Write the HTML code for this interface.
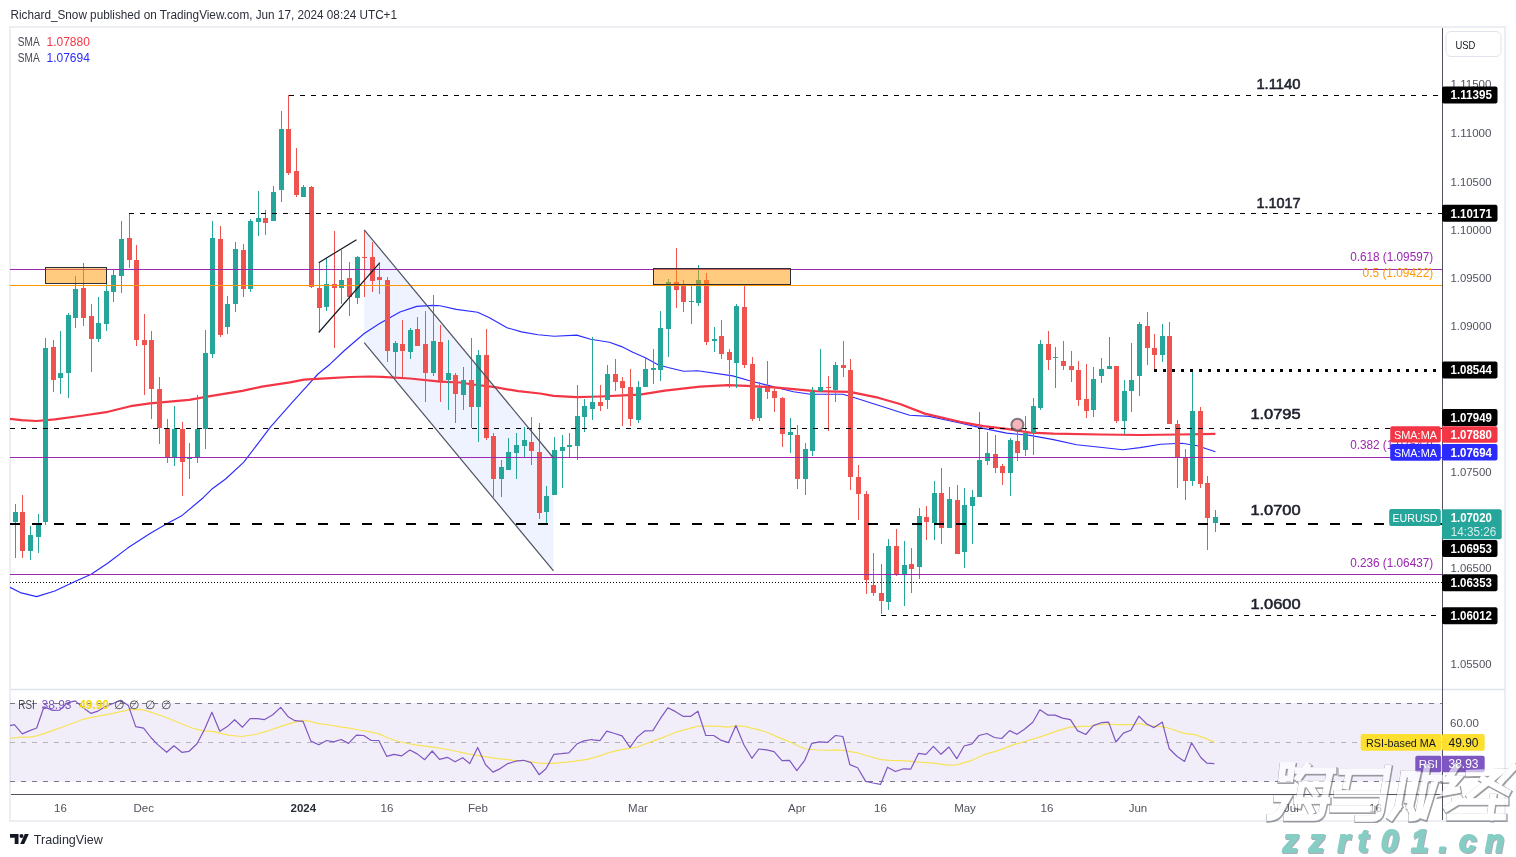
<!DOCTYPE html>
<html><head><meta charset="utf-8"><style>
html,body{margin:0;padding:0;background:#fff;}
body{width:1516px;height:857px;overflow:hidden;position:relative;}
svg{position:absolute;left:0;top:0;font-family:"Liberation Sans", sans-serif;will-change:transform;}
</style></head><body>
<svg width="1516" height="857" viewBox="0 0 1516 857"><defs><clipPath id="cm"><rect x="10" y="28" width="1432" height="661"/></clipPath><clipPath id="cr"><rect x="10" y="690" width="1432" height="104"/></clipPath></defs><rect x="10" y="27" width="1495" height="794" fill="none" stroke="#eceef3" stroke-width="2"/><g clip-path="url(#cm)"><polygon points="364.2,229.8 553.5,458.0 553.5,570.8 364.2,342.6" fill="#2962ff" fill-opacity="0.08"/><path d="M10.0,587.3 L21.2,592.9 L36.6,596.6 L54.8,591.0 L74.4,581.7 L91.2,574.2 L108.0,563.0 L127.6,548.1 L150.0,533.6 L166.8,523.8 L182.2,515.4 L203.2,497.7 L211.6,489.3 L225.6,479.0 L243.8,462.2 L270.4,427.2 L290.0,404.8 L304.0,389.4 L318.0,374.0 L330.0,364.2 L345.0,350.0 L364.2,333.5 L380.0,323.3 L400.0,312.0 L416.7,306.4 L433.0,305.4 L440.0,305.8 L456.3,309.4 L477.6,312.3 L489.0,317.6 L507.0,327.7 L521.6,331.9 L538.0,334.7 L554.3,336.3 L576.7,335.1 L590.7,339.3 L609.4,342.3 L621.6,346.6 L632.8,352.2 L645.4,357.8 L658.0,364.8 L668.0,367.5 L683.7,371.2 L697.7,370.7 L732.7,375.9 L751.4,381.3 L770.0,385.9 L793.4,391.8 L810.4,394.2 L843.0,394.2 L854.7,397.7 L909.6,415.2 L929.4,416.4 L960.0,423.0 L983.3,428.4 L1006.7,433.1 L1030.0,435.4 L1053.4,439.6 L1076.7,444.8 L1100.0,447.3 L1122.8,449.7 L1140.0,447.6 L1160.7,444.2 L1182.0,443.3 L1197.2,445.8 L1215.4,451.8" fill="none" stroke="#2b2bff" stroke-width="1.15" stroke-linejoin="round"/><path d="M10.0,418.8 L21.2,420.2 L36.6,421.0 L54.8,419.4 L80.0,416.0 L108.0,411.8 L130.4,406.2 L150.0,403.4 L189.2,399.8 L211.6,395.8 L242.4,390.8 L262.0,386.6 L290.0,382.4 L304.0,379.6 L330.0,378.2 L350.0,377.0 L370.0,376.5 L381.7,376.9 L410.0,378.5 L440.0,381.6 L460.0,382.5 L472.7,384.5 L495.0,387.2 L518.4,391.2 L540.0,393.5 L553.4,395.8 L576.7,397.2 L600.0,396.5 L623.4,395.4 L640.0,394.6 L665.0,390.6 L700.0,386.6 L728.0,385.2 L746.7,385.9 L770.0,387.1 L780.0,387.9 L815.0,391.2 L850.0,391.9 L878.0,397.7 L900.0,404.0 L924.8,413.6 L960.0,421.8 L983.3,426.1 L1006.7,428.9 L1030.0,432.6 L1053.4,433.6 L1100.0,434.5 L1140.0,435.0 L1180.0,434.5 L1215.4,433.8" fill="none" stroke="#f23645" stroke-width="2.2" stroke-linejoin="round"/><g shape-rendering="crispEdges"><rect x="15" y="504" width="1" height="54" fill="#26a69a"/><rect x="13" y="512" width="5" height="10" fill="#26a69a"/><rect x="22" y="495" width="1" height="63" fill="#ef5350"/><rect x="20" y="512" width="5" height="39" fill="#ef5350"/><rect x="30" y="526" width="1" height="34" fill="#26a69a"/><rect x="28" y="535" width="5" height="16" fill="#26a69a"/><rect x="38" y="514" width="1" height="39" fill="#26a69a"/><rect x="36" y="525" width="5" height="12" fill="#26a69a"/><rect x="45" y="338" width="1" height="187" fill="#26a69a"/><rect x="43" y="348" width="5" height="174" fill="#26a69a"/><rect x="53" y="340" width="1" height="52" fill="#ef5350"/><rect x="51" y="347" width="5" height="33" fill="#ef5350"/><rect x="60" y="331" width="1" height="63" fill="#26a69a"/><rect x="58" y="373" width="5" height="5" fill="#26a69a"/><rect x="68" y="313" width="1" height="85" fill="#26a69a"/><rect x="66" y="315" width="5" height="58" fill="#26a69a"/><rect x="75" y="276" width="1" height="52" fill="#26a69a"/><rect x="73" y="289" width="5" height="29" fill="#26a69a"/><rect x="83" y="263" width="1" height="63" fill="#ef5350"/><rect x="81" y="288" width="5" height="30" fill="#ef5350"/><rect x="91" y="304" width="1" height="68" fill="#ef5350"/><rect x="89" y="316" width="5" height="23" fill="#ef5350"/><rect x="98" y="297" width="1" height="45" fill="#26a69a"/><rect x="96" y="323" width="5" height="16" fill="#26a69a"/><rect x="106" y="284" width="1" height="47" fill="#26a69a"/><rect x="104" y="291" width="5" height="33" fill="#26a69a"/><rect x="113" y="270" width="1" height="32" fill="#26a69a"/><rect x="111" y="275" width="5" height="17" fill="#26a69a"/><rect x="121" y="221" width="1" height="72" fill="#26a69a"/><rect x="119" y="239" width="5" height="37" fill="#26a69a"/><rect x="129" y="214" width="1" height="54" fill="#ef5350"/><rect x="127" y="238" width="5" height="22" fill="#ef5350"/><rect x="136" y="245" width="1" height="101" fill="#ef5350"/><rect x="134" y="260" width="5" height="80" fill="#ef5350"/><rect x="144" y="314" width="1" height="81" fill="#ef5350"/><rect x="142" y="340" width="5" height="5" fill="#ef5350"/><rect x="151" y="331" width="1" height="88" fill="#ef5350"/><rect x="149" y="340" width="5" height="49" fill="#ef5350"/><rect x="159" y="377" width="1" height="67" fill="#ef5350"/><rect x="157" y="389" width="5" height="39" fill="#ef5350"/><rect x="167" y="419" width="1" height="44" fill="#ef5350"/><rect x="165" y="428" width="5" height="30" fill="#ef5350"/><rect x="174" y="406" width="1" height="60" fill="#26a69a"/><rect x="172" y="429" width="5" height="29" fill="#26a69a"/><rect x="182" y="422" width="1" height="74" fill="#ef5350"/><rect x="180" y="429" width="5" height="33" fill="#ef5350"/><rect x="189" y="443" width="1" height="36" fill="#26a69a"/><rect x="187" y="458" width="5" height="1" fill="#26a69a"/><rect x="197" y="395" width="1" height="68" fill="#26a69a"/><rect x="195" y="429" width="5" height="29" fill="#26a69a"/><rect x="205" y="330" width="1" height="119" fill="#26a69a"/><rect x="203" y="353" width="5" height="76" fill="#26a69a"/><rect x="212" y="221" width="1" height="137" fill="#26a69a"/><rect x="210" y="238" width="5" height="116" fill="#26a69a"/><rect x="220" y="226" width="1" height="111" fill="#ef5350"/><rect x="218" y="239" width="5" height="96" fill="#ef5350"/><rect x="227" y="296" width="1" height="38" fill="#26a69a"/><rect x="225" y="304" width="5" height="23" fill="#26a69a"/><rect x="235" y="242" width="1" height="70" fill="#26a69a"/><rect x="233" y="249" width="5" height="55" fill="#26a69a"/><rect x="243" y="244" width="1" height="53" fill="#ef5350"/><rect x="241" y="250" width="5" height="39" fill="#ef5350"/><rect x="250" y="219" width="1" height="73" fill="#26a69a"/><rect x="248" y="221" width="5" height="68" fill="#26a69a"/><rect x="258" y="191" width="1" height="45" fill="#26a69a"/><rect x="256" y="218" width="5" height="4" fill="#26a69a"/><rect x="265" y="210" width="1" height="25" fill="#ef5350"/><rect x="263" y="218" width="5" height="5" fill="#ef5350"/><rect x="273" y="186" width="1" height="35" fill="#26a69a"/><rect x="271" y="192" width="5" height="29" fill="#26a69a"/><rect x="281" y="111" width="1" height="91" fill="#26a69a"/><rect x="279" y="129" width="5" height="61" fill="#26a69a"/><rect x="288" y="95" width="1" height="80" fill="#ef5350"/><rect x="286" y="129" width="5" height="44" fill="#ef5350"/><rect x="296" y="148" width="1" height="49" fill="#ef5350"/><rect x="294" y="171" width="5" height="24" fill="#ef5350"/><rect x="303" y="185" width="1" height="12" fill="#26a69a"/><rect x="301" y="187" width="5" height="10" fill="#26a69a"/><rect x="311" y="186" width="1" height="102" fill="#ef5350"/><rect x="309" y="187" width="5" height="100" fill="#ef5350"/><rect x="319" y="263" width="1" height="69" fill="#ef5350"/><rect x="317" y="288" width="5" height="20" fill="#ef5350"/><rect x="326" y="258" width="1" height="53" fill="#26a69a"/><rect x="324" y="284" width="5" height="23" fill="#26a69a"/><rect x="334" y="231" width="1" height="117" fill="#ef5350"/><rect x="332" y="284" width="5" height="4" fill="#ef5350"/><rect x="341" y="250" width="1" height="54" fill="#26a69a"/><rect x="339" y="280" width="5" height="8" fill="#26a69a"/><rect x="349" y="262" width="1" height="54" fill="#ef5350"/><rect x="347" y="278" width="5" height="19" fill="#ef5350"/><rect x="357" y="256" width="1" height="48" fill="#26a69a"/><rect x="355" y="257" width="5" height="41" fill="#26a69a"/><rect x="364" y="230" width="1" height="67" fill="#ef5350"/><rect x="362" y="257" width="5" height="1" fill="#ef5350"/><rect x="372" y="242" width="1" height="50" fill="#ef5350"/><rect x="370" y="257" width="5" height="24" fill="#ef5350"/><rect x="379" y="262" width="1" height="32" fill="#ef5350"/><rect x="377" y="277" width="5" height="3" fill="#ef5350"/><rect x="387" y="277" width="1" height="85" fill="#ef5350"/><rect x="385" y="280" width="5" height="71" fill="#ef5350"/><rect x="395" y="341" width="1" height="38" fill="#26a69a"/><rect x="393" y="343" width="5" height="9" fill="#26a69a"/><rect x="402" y="320" width="1" height="57" fill="#ef5350"/><rect x="400" y="344" width="5" height="7" fill="#ef5350"/><rect x="410" y="328" width="1" height="31" fill="#26a69a"/><rect x="408" y="330" width="5" height="22" fill="#26a69a"/><rect x="417" y="317" width="1" height="29" fill="#ef5350"/><rect x="415" y="329" width="5" height="17" fill="#ef5350"/><rect x="425" y="311" width="1" height="91" fill="#ef5350"/><rect x="423" y="344" width="5" height="29" fill="#ef5350"/><rect x="433" y="295" width="1" height="81" fill="#26a69a"/><rect x="431" y="341" width="5" height="32" fill="#26a69a"/><rect x="440" y="325" width="1" height="77" fill="#ef5350"/><rect x="438" y="342" width="5" height="39" fill="#ef5350"/><rect x="448" y="340" width="1" height="70" fill="#26a69a"/><rect x="446" y="373" width="5" height="7" fill="#26a69a"/><rect x="455" y="373" width="1" height="50" fill="#ef5350"/><rect x="453" y="375" width="5" height="19" fill="#ef5350"/><rect x="463" y="367" width="1" height="43" fill="#26a69a"/><rect x="461" y="380" width="5" height="15" fill="#26a69a"/><rect x="471" y="338" width="1" height="90" fill="#ef5350"/><rect x="469" y="380" width="5" height="27" fill="#ef5350"/><rect x="478" y="350" width="1" height="92" fill="#26a69a"/><rect x="476" y="355" width="5" height="52" fill="#26a69a"/><rect x="486" y="329" width="1" height="111" fill="#ef5350"/><rect x="484" y="355" width="5" height="83" fill="#ef5350"/><rect x="493" y="433" width="1" height="64" fill="#ef5350"/><rect x="491" y="436" width="5" height="43" fill="#ef5350"/><rect x="501" y="460" width="1" height="37" fill="#26a69a"/><rect x="499" y="467" width="5" height="12" fill="#26a69a"/><rect x="508" y="438" width="1" height="32" fill="#26a69a"/><rect x="506" y="452" width="5" height="18" fill="#26a69a"/><rect x="516" y="433" width="1" height="46" fill="#26a69a"/><rect x="514" y="445" width="5" height="8" fill="#26a69a"/><rect x="524" y="427" width="1" height="31" fill="#26a69a"/><rect x="522" y="440" width="5" height="6" fill="#26a69a"/><rect x="531" y="417" width="1" height="48" fill="#ef5350"/><rect x="529" y="442" width="5" height="9" fill="#ef5350"/><rect x="539" y="423" width="1" height="96" fill="#ef5350"/><rect x="537" y="452" width="5" height="61" fill="#ef5350"/><rect x="546" y="486" width="1" height="37" fill="#26a69a"/><rect x="544" y="496" width="5" height="16" fill="#26a69a"/><rect x="554" y="437" width="1" height="58" fill="#26a69a"/><rect x="552" y="450" width="5" height="45" fill="#26a69a"/><rect x="562" y="435" width="1" height="53" fill="#26a69a"/><rect x="560" y="447" width="5" height="4" fill="#26a69a"/><rect x="569" y="433" width="1" height="25" fill="#26a69a"/><rect x="567" y="445" width="5" height="2" fill="#26a69a"/><rect x="577" y="385" width="1" height="75" fill="#26a69a"/><rect x="575" y="416" width="5" height="30" fill="#26a69a"/><rect x="584" y="399" width="1" height="33" fill="#26a69a"/><rect x="582" y="406" width="5" height="11" fill="#26a69a"/><rect x="592" y="337" width="1" height="83" fill="#26a69a"/><rect x="590" y="402" width="5" height="7" fill="#26a69a"/><rect x="600" y="385" width="1" height="26" fill="#ef5350"/><rect x="598" y="402" width="5" height="4" fill="#ef5350"/><rect x="607" y="365" width="1" height="44" fill="#26a69a"/><rect x="605" y="374" width="5" height="26" fill="#26a69a"/><rect x="615" y="359" width="1" height="32" fill="#ef5350"/><rect x="613" y="374" width="5" height="8" fill="#ef5350"/><rect x="622" y="377" width="1" height="49" fill="#ef5350"/><rect x="620" y="381" width="5" height="7" fill="#ef5350"/><rect x="630" y="369" width="1" height="57" fill="#ef5350"/><rect x="628" y="387" width="5" height="32" fill="#ef5350"/><rect x="638" y="381" width="1" height="42" fill="#26a69a"/><rect x="636" y="387" width="5" height="33" fill="#26a69a"/><rect x="645" y="358" width="1" height="29" fill="#26a69a"/><rect x="643" y="369" width="5" height="18" fill="#26a69a"/><rect x="653" y="349" width="1" height="35" fill="#26a69a"/><rect x="651" y="368" width="5" height="2" fill="#26a69a"/><rect x="660" y="311" width="1" height="70" fill="#26a69a"/><rect x="658" y="328" width="5" height="42" fill="#26a69a"/><rect x="668" y="279" width="1" height="78" fill="#26a69a"/><rect x="666" y="282" width="5" height="47" fill="#26a69a"/><rect x="676" y="248" width="1" height="60" fill="#ef5350"/><rect x="674" y="282" width="5" height="8" fill="#ef5350"/><rect x="683" y="280" width="1" height="32" fill="#ef5350"/><rect x="681" y="286" width="5" height="16" fill="#ef5350"/><rect x="691" y="286" width="1" height="38" fill="#26a69a"/><rect x="689" y="301" width="5" height="1" fill="#26a69a"/><rect x="698" y="265" width="1" height="41" fill="#26a69a"/><rect x="696" y="280" width="5" height="23" fill="#26a69a"/><rect x="706" y="273" width="1" height="72" fill="#ef5350"/><rect x="704" y="280" width="5" height="62" fill="#ef5350"/><rect x="714" y="327" width="1" height="25" fill="#26a69a"/><rect x="712" y="339" width="5" height="2" fill="#26a69a"/><rect x="721" y="320" width="1" height="39" fill="#ef5350"/><rect x="719" y="336" width="5" height="18" fill="#ef5350"/><rect x="729" y="349" width="1" height="39" fill="#ef5350"/><rect x="727" y="352" width="5" height="8" fill="#ef5350"/><rect x="736" y="304" width="1" height="84" fill="#26a69a"/><rect x="734" y="306" width="5" height="57" fill="#26a69a"/><rect x="744" y="286" width="1" height="82" fill="#ef5350"/><rect x="742" y="307" width="5" height="58" fill="#ef5350"/><rect x="752" y="357" width="1" height="64" fill="#ef5350"/><rect x="750" y="364" width="5" height="55" fill="#ef5350"/><rect x="759" y="382" width="1" height="39" fill="#26a69a"/><rect x="757" y="388" width="5" height="30" fill="#26a69a"/><rect x="767" y="361" width="1" height="38" fill="#ef5350"/><rect x="765" y="388" width="5" height="4" fill="#ef5350"/><rect x="774" y="386" width="1" height="26" fill="#ef5350"/><rect x="772" y="391" width="5" height="7" fill="#ef5350"/><rect x="782" y="397" width="1" height="50" fill="#ef5350"/><rect x="780" y="398" width="5" height="36" fill="#ef5350"/><rect x="790" y="418" width="1" height="35" fill="#26a69a"/><rect x="788" y="432" width="5" height="3" fill="#26a69a"/><rect x="797" y="425" width="1" height="64" fill="#ef5350"/><rect x="795" y="435" width="5" height="44" fill="#ef5350"/><rect x="805" y="443" width="1" height="52" fill="#26a69a"/><rect x="803" y="449" width="5" height="30" fill="#26a69a"/><rect x="812" y="387" width="1" height="69" fill="#26a69a"/><rect x="810" y="392" width="5" height="59" fill="#26a69a"/><rect x="820" y="349" width="1" height="43" fill="#26a69a"/><rect x="818" y="387" width="5" height="4" fill="#26a69a"/><rect x="828" y="376" width="1" height="55" fill="#ef5350"/><rect x="826" y="387" width="5" height="1" fill="#ef5350"/><rect x="835" y="362" width="1" height="40" fill="#26a69a"/><rect x="833" y="365" width="5" height="25" fill="#26a69a"/><rect x="843" y="341" width="1" height="36" fill="#ef5350"/><rect x="841" y="365" width="5" height="3" fill="#ef5350"/><rect x="850" y="359" width="1" height="131" fill="#ef5350"/><rect x="848" y="370" width="5" height="107" fill="#ef5350"/><rect x="858" y="465" width="1" height="55" fill="#ef5350"/><rect x="856" y="477" width="5" height="17" fill="#ef5350"/><rect x="866" y="491" width="1" height="103" fill="#ef5350"/><rect x="864" y="494" width="5" height="86" fill="#ef5350"/><rect x="873" y="553" width="1" height="43" fill="#ef5350"/><rect x="871" y="585" width="5" height="8" fill="#ef5350"/><rect x="881" y="564" width="1" height="50" fill="#ef5350"/><rect x="879" y="593" width="5" height="8" fill="#ef5350"/><rect x="888" y="539" width="1" height="71" fill="#26a69a"/><rect x="886" y="546" width="5" height="56" fill="#26a69a"/><rect x="896" y="529" width="1" height="47" fill="#ef5350"/><rect x="894" y="546" width="5" height="29" fill="#ef5350"/><rect x="904" y="541" width="1" height="65" fill="#26a69a"/><rect x="902" y="565" width="5" height="9" fill="#26a69a"/><rect x="911" y="548" width="1" height="45" fill="#ef5350"/><rect x="909" y="564" width="5" height="5" fill="#ef5350"/><rect x="919" y="508" width="1" height="71" fill="#26a69a"/><rect x="917" y="516" width="5" height="51" fill="#26a69a"/><rect x="926" y="506" width="1" height="34" fill="#ef5350"/><rect x="924" y="517" width="5" height="5" fill="#ef5350"/><rect x="934" y="481" width="1" height="59" fill="#26a69a"/><rect x="932" y="493" width="5" height="30" fill="#26a69a"/><rect x="941" y="468" width="1" height="76" fill="#ef5350"/><rect x="939" y="493" width="5" height="35" fill="#ef5350"/><rect x="949" y="487" width="1" height="41" fill="#26a69a"/><rect x="947" y="499" width="5" height="29" fill="#26a69a"/><rect x="957" y="485" width="1" height="69" fill="#ef5350"/><rect x="955" y="500" width="5" height="54" fill="#ef5350"/><rect x="964" y="488" width="1" height="80" fill="#26a69a"/><rect x="962" y="505" width="5" height="47" fill="#26a69a"/><rect x="972" y="490" width="1" height="54" fill="#26a69a"/><rect x="970" y="497" width="5" height="9" fill="#26a69a"/><rect x="979" y="412" width="1" height="85" fill="#26a69a"/><rect x="977" y="460" width="5" height="37" fill="#26a69a"/><rect x="987" y="432" width="1" height="33" fill="#26a69a"/><rect x="985" y="453" width="5" height="8" fill="#26a69a"/><rect x="995" y="435" width="1" height="38" fill="#ef5350"/><rect x="993" y="454" width="5" height="14" fill="#ef5350"/><rect x="1002" y="464" width="1" height="21" fill="#ef5350"/><rect x="1000" y="466" width="5" height="7" fill="#ef5350"/><rect x="1010" y="438" width="1" height="58" fill="#26a69a"/><rect x="1008" y="440" width="5" height="33" fill="#26a69a"/><rect x="1017" y="428" width="1" height="33" fill="#ef5350"/><rect x="1015" y="441" width="5" height="12" fill="#ef5350"/><rect x="1025" y="416" width="1" height="40" fill="#26a69a"/><rect x="1023" y="433" width="5" height="17" fill="#26a69a"/><rect x="1033" y="398" width="1" height="57" fill="#26a69a"/><rect x="1031" y="406" width="5" height="27" fill="#26a69a"/><rect x="1040" y="340" width="1" height="70" fill="#26a69a"/><rect x="1038" y="344" width="5" height="64" fill="#26a69a"/><rect x="1048" y="331" width="1" height="39" fill="#ef5350"/><rect x="1046" y="344" width="5" height="16" fill="#ef5350"/><rect x="1055" y="347" width="1" height="41" fill="#26a69a"/><rect x="1053" y="357" width="5" height="1" fill="#26a69a"/><rect x="1063" y="341" width="1" height="29" fill="#ef5350"/><rect x="1061" y="361" width="5" height="5" fill="#ef5350"/><rect x="1071" y="351" width="1" height="31" fill="#ef5350"/><rect x="1069" y="366" width="5" height="4" fill="#ef5350"/><rect x="1078" y="361" width="1" height="45" fill="#ef5350"/><rect x="1076" y="370" width="5" height="30" fill="#ef5350"/><rect x="1086" y="364" width="1" height="54" fill="#ef5350"/><rect x="1084" y="399" width="5" height="12" fill="#ef5350"/><rect x="1093" y="367" width="1" height="50" fill="#26a69a"/><rect x="1091" y="379" width="5" height="31" fill="#26a69a"/><rect x="1101" y="358" width="1" height="25" fill="#26a69a"/><rect x="1099" y="369" width="5" height="7" fill="#26a69a"/><rect x="1109" y="337" width="1" height="32" fill="#26a69a"/><rect x="1107" y="366" width="5" height="3" fill="#26a69a"/><rect x="1116" y="366" width="1" height="57" fill="#ef5350"/><rect x="1114" y="366" width="5" height="55" fill="#ef5350"/><rect x="1124" y="380" width="1" height="54" fill="#26a69a"/><rect x="1122" y="391" width="5" height="30" fill="#26a69a"/><rect x="1131" y="343" width="1" height="69" fill="#26a69a"/><rect x="1129" y="380" width="5" height="11" fill="#26a69a"/><rect x="1139" y="322" width="1" height="74" fill="#26a69a"/><rect x="1137" y="324" width="5" height="52" fill="#26a69a"/><rect x="1147" y="312" width="1" height="53" fill="#ef5350"/><rect x="1145" y="326" width="5" height="22" fill="#ef5350"/><rect x="1154" y="334" width="1" height="35" fill="#ef5350"/><rect x="1152" y="348" width="5" height="7" fill="#ef5350"/><rect x="1162" y="324" width="1" height="38" fill="#26a69a"/><rect x="1160" y="336" width="5" height="19" fill="#26a69a"/><rect x="1169" y="322" width="1" height="102" fill="#ef5350"/><rect x="1167" y="336" width="5" height="88" fill="#ef5350"/><rect x="1177" y="420" width="1" height="68" fill="#ef5350"/><rect x="1175" y="424" width="5" height="33" fill="#ef5350"/><rect x="1185" y="449" width="1" height="51" fill="#ef5350"/><rect x="1183" y="457" width="5" height="24" fill="#ef5350"/><rect x="1192" y="370" width="1" height="116" fill="#26a69a"/><rect x="1190" y="411" width="5" height="70" fill="#26a69a"/><rect x="1200" y="407" width="1" height="81" fill="#ef5350"/><rect x="1198" y="411" width="5" height="73" fill="#ef5350"/><rect x="1207" y="476" width="1" height="74" fill="#ef5350"/><rect x="1205" y="483" width="5" height="35" fill="#ef5350"/><rect x="1215" y="510" width="1" height="22" fill="#26a69a"/><rect x="1213" y="517" width="5" height="6" fill="#26a69a"/></g><line x1="289" y1="95.5" x2="1442" y2="95.5" stroke="#000" stroke-width="1" stroke-dasharray="5 6" shape-rendering="crispEdges"/><line x1="129" y1="213.5" x2="1442" y2="213.5" stroke="#000" stroke-width="1" stroke-dasharray="5 6" shape-rendering="crispEdges"/><line x1="10" y1="269.5" x2="1442" y2="269.5" stroke="#9c27b0" stroke-width="1" shape-rendering="crispEdges"/><line x1="10" y1="285.5" x2="1442" y2="285.5" stroke="#ff9800" stroke-width="1" shape-rendering="crispEdges"/><line x1="1154" y1="370.5" x2="1442" y2="370.5" stroke="#000" stroke-width="3" stroke-dasharray="3 6" shape-rendering="crispEdges"/><line x1="10" y1="428.5" x2="1442" y2="428.5" stroke="#000" stroke-width="1" stroke-dasharray="5 6" shape-rendering="crispEdges"/><line x1="10" y1="457.5" x2="1442" y2="457.5" stroke="#9c27b0" stroke-width="1" shape-rendering="crispEdges"/><line x1="10" y1="524" x2="1442" y2="524" stroke="#000" stroke-width="2" stroke-dasharray="10 12" shape-rendering="crispEdges"/><line x1="10" y1="574.5" x2="1442" y2="574.5" stroke="#9c27b0" stroke-width="1" shape-rendering="crispEdges"/><line x1="10" y1="582.5" x2="1442" y2="582.5" stroke="#000" stroke-width="1" stroke-dasharray="1 2" shape-rendering="crispEdges"/><line x1="881" y1="615.5" x2="1442" y2="615.5" stroke="#000" stroke-width="1" stroke-dasharray="5 6" shape-rendering="crispEdges"/><rect x="45.5" y="267.5" width="61" height="16" fill="#ff9800" fill-opacity="0.5" stroke="#2a2e39" stroke-width="1"/><rect x="653.5" y="268.5" width="137" height="16" fill="#ff9800" fill-opacity="0.5" stroke="#2a2e39" stroke-width="1"/><line x1="364.2" y1="229.8" x2="553.5" y2="458.0" stroke="#50535e" stroke-width="1.2"/><line x1="364.2" y1="342.6" x2="553.5" y2="570.8" stroke="#50535e" stroke-width="1.2"/><line x1="318.7" y1="262.7" x2="356.5" y2="239.8" stroke="#131722" stroke-width="1.2"/><line x1="318.7" y1="332.5" x2="379.4" y2="263.2" stroke="#131722" stroke-width="1.2"/><circle cx="1017.4" cy="424.8" r="6" fill="#f7a1aa" stroke="#50535e" stroke-opacity="0.75" stroke-width="2" fill-opacity="0.8"/><text x="1300.6" y="89" font-size="13.8" fill="#1e222d" font-weight="normal" text-anchor="end" textLength="44.2" lengthAdjust="spacingAndGlyphs" stroke="#1e222d" stroke-width="0.55">1.1140</text><text x="1300.6" y="207.7" font-size="13.8" fill="#1e222d" font-weight="normal" text-anchor="end" textLength="44.2" lengthAdjust="spacingAndGlyphs" stroke="#1e222d" stroke-width="0.55">1.1017</text><text x="1300.6" y="419.2" font-size="13.8" fill="#1e222d" font-weight="normal" text-anchor="end" textLength="50.2" lengthAdjust="spacingAndGlyphs" stroke="#1e222d" stroke-width="0.55">1.0795</text><text x="1300.6" y="514.6" font-size="13.8" fill="#1e222d" font-weight="normal" text-anchor="end" textLength="50.2" lengthAdjust="spacingAndGlyphs" stroke="#1e222d" stroke-width="0.55">1.0700</text><text x="1300.6" y="609.3" font-size="13.8" fill="#1e222d" font-weight="normal" text-anchor="end" textLength="50.2" lengthAdjust="spacingAndGlyphs" stroke="#1e222d" stroke-width="0.55">1.0600</text><text x="1433.2" y="261" font-size="12.3" fill="#9c27b0" font-weight="normal" text-anchor="end" textLength="83" lengthAdjust="spacingAndGlyphs">0.618 (1.09597)</text><text x="1433.2" y="277" font-size="12.3" fill="#ff9800" font-weight="normal" text-anchor="end" textLength="70.6" lengthAdjust="spacingAndGlyphs">0.5 (1.09422)</text><text x="1433.2" y="448.7" font-size="12.3" fill="#9c27b0" font-weight="normal" text-anchor="end" textLength="83" lengthAdjust="spacingAndGlyphs">0.382 (1.07643)</text><text x="1433.2" y="566.8" font-size="12.3" fill="#9c27b0" font-weight="normal" text-anchor="end" textLength="83" lengthAdjust="spacingAndGlyphs">0.236 (1.06437)</text></g><text x="17.8" y="45.8" font-size="12" fill="#434651" font-weight="normal" text-anchor="start" textLength="21.8" lengthAdjust="spacingAndGlyphs">SMA</text><text x="46.5" y="45.8" font-size="12" fill="#f23645" font-weight="normal" text-anchor="start" >1.07880</text><text x="17.8" y="62.3" font-size="12" fill="#434651" font-weight="normal" text-anchor="start" textLength="21.8" lengthAdjust="spacingAndGlyphs">SMA</text><text x="46.5" y="62.3" font-size="12" fill="#2b2bff" font-weight="normal" text-anchor="start" >1.07694</text><line x1="11" y1="689.5" x2="1505" y2="689.5" stroke="#e0e3eb" stroke-width="1.3"/><line x1="11" y1="794.5" x2="1442" y2="794.5" stroke="#50535e" stroke-width="1"/><line x1="1442.5" y1="28" x2="1442.5" y2="820" stroke="#50535e" stroke-width="1"/><rect x="1446" y="31.5" width="55" height="25" rx="5" fill="#fff" stroke="#e0e3eb" stroke-width="1"/><text x="1455.4" y="48.5" font-size="11.5" fill="#131722" font-weight="normal" text-anchor="start" textLength="20" lengthAdjust="spacingAndGlyphs">USD</text><text x="1450.5" y="88.2" font-size="11.5" fill="#50535e" font-weight="normal" text-anchor="start" textLength="41" lengthAdjust="spacingAndGlyphs">1.11500</text><text x="1450.5" y="137.2" font-size="11.5" fill="#50535e" font-weight="normal" text-anchor="start" textLength="41" lengthAdjust="spacingAndGlyphs">1.11000</text><text x="1450.5" y="185.7" font-size="11.5" fill="#50535e" font-weight="normal" text-anchor="start" textLength="41" lengthAdjust="spacingAndGlyphs">1.10500</text><text x="1450.5" y="233.7" font-size="11.5" fill="#50535e" font-weight="normal" text-anchor="start" textLength="41" lengthAdjust="spacingAndGlyphs">1.10000</text><text x="1450.5" y="282.2" font-size="11.5" fill="#50535e" font-weight="normal" text-anchor="start" textLength="41" lengthAdjust="spacingAndGlyphs">1.09500</text><text x="1450.5" y="330.2" font-size="11.5" fill="#50535e" font-weight="normal" text-anchor="start" textLength="41" lengthAdjust="spacingAndGlyphs">1.09000</text><text x="1450.5" y="475.7" font-size="11.5" fill="#50535e" font-weight="normal" text-anchor="start" textLength="41" lengthAdjust="spacingAndGlyphs">1.07500</text><text x="1450.5" y="571.7" font-size="11.5" fill="#50535e" font-weight="normal" text-anchor="start" textLength="41" lengthAdjust="spacingAndGlyphs">1.06500</text><text x="1450.5" y="668.2" font-size="11.5" fill="#50535e" font-weight="normal" text-anchor="start" textLength="41" lengthAdjust="spacingAndGlyphs">1.05500</text><rect x="1442" y="86.5" width="55.5" height="17" rx="2" fill="#000"/><text x="1471.25" y="99.3" font-size="12" fill="#fff" font-weight="bold" text-anchor="middle" textLength="41.5" lengthAdjust="spacingAndGlyphs">1.11395</text><rect x="1442" y="204.7" width="55.5" height="17" rx="2" fill="#000"/><text x="1471.25" y="217.5" font-size="12" fill="#fff" font-weight="bold" text-anchor="middle" textLength="41.5" lengthAdjust="spacingAndGlyphs">1.10171</text><rect x="1442" y="361.5" width="55.5" height="17" rx="2" fill="#000"/><text x="1471.25" y="374.3" font-size="12" fill="#fff" font-weight="bold" text-anchor="middle" textLength="41.5" lengthAdjust="spacingAndGlyphs">1.08544</text><rect x="1442" y="408.9" width="55.5" height="17" rx="2" fill="#000"/><text x="1471.25" y="421.7" font-size="12" fill="#fff" font-weight="bold" text-anchor="middle" textLength="41.5" lengthAdjust="spacingAndGlyphs">1.07949</text><rect x="1442" y="426.2" width="55.5" height="16.5" rx="2" fill="#f23645"/><text x="1471.25" y="438.8" font-size="12" fill="#fff" font-weight="bold" text-anchor="middle" textLength="41.5" lengthAdjust="spacingAndGlyphs">1.07880</text><rect x="1442" y="444.1" width="55.5" height="16.5" rx="2" fill="#2b2bff"/><text x="1471.25" y="456.7" font-size="12" fill="#fff" font-weight="bold" text-anchor="middle" textLength="41.5" lengthAdjust="spacingAndGlyphs">1.07694</text><rect x="1442" y="540.0" width="55.5" height="17" rx="2" fill="#000"/><text x="1471.25" y="552.8" font-size="12" fill="#fff" font-weight="bold" text-anchor="middle" textLength="41.5" lengthAdjust="spacingAndGlyphs">1.06953</text><rect x="1442" y="574.2" width="55.5" height="17" rx="2" fill="#000"/><text x="1471.25" y="587.0" font-size="12" fill="#fff" font-weight="bold" text-anchor="middle" textLength="41.5" lengthAdjust="spacingAndGlyphs">1.06353</text><rect x="1442" y="607.3" width="55.5" height="17" rx="2" fill="#000"/><text x="1471.25" y="620.0999999999999" font-size="12" fill="#fff" font-weight="bold" text-anchor="middle" textLength="41.5" lengthAdjust="spacingAndGlyphs">1.06012</text><rect x="1442" y="509.3" width="59.7" height="30" rx="2" fill="#26a69a"/><text x="1450.7" y="522" font-size="12" fill="#fff" font-weight="bold" text-anchor="start" textLength="41.2" lengthAdjust="spacingAndGlyphs">1.07020</text><text x="1450.7" y="535.7" font-size="12" fill="#fff" font-weight="normal" text-anchor="start" textLength="45.5" lengthAdjust="spacingAndGlyphs" fill-opacity="0.8">14:35:26</text><rect x="1390.2" y="426.2" width="50.6" height="16.4" rx="2" fill="#f23645"/><text x="1415.5" y="438.7" font-size="11.5" fill="#fff" font-weight="normal" text-anchor="middle" textLength="43" lengthAdjust="spacingAndGlyphs">SMA:MA</text><rect x="1390.2" y="444.1" width="50.6" height="16.7" rx="2" fill="#2b2bff"/><text x="1415.5" y="456.75000000000006" font-size="11.5" fill="#fff" font-weight="normal" text-anchor="middle" textLength="43" lengthAdjust="spacingAndGlyphs">SMA:MA</text><rect x="1389.2" y="509.1" width="51.6" height="16.9" rx="2" fill="#26a69a"/><text x="1415.0" y="521.8499999999999" font-size="11.5" fill="#fff" font-weight="normal" text-anchor="middle" textLength="45" lengthAdjust="spacingAndGlyphs">EURUSD</text><g clip-path="url(#cr)"><rect x="10" y="703" width="1432" height="78.5" fill="#7e57c2" fill-opacity="0.1"/><line x1="10" y1="703.5" x2="1442" y2="703.5" stroke="#787b86" stroke-width="1" stroke-dasharray="5 6" shape-rendering="crispEdges"/><line x1="10" y1="781.5" x2="1442" y2="781.5" stroke="#787b86" stroke-width="1" stroke-dasharray="5 6" shape-rendering="crispEdges"/><line x1="10" y1="742.5" x2="1442" y2="742.5" stroke="#787b86" stroke-opacity="0.5" stroke-width="1" stroke-dasharray="5 6" shape-rendering="crispEdges"/><path d="M10.0,738.5 L19.9,737.1 L29.8,737.1 L36.7,735.9 L49.6,731.6 L67.4,725.2 L83.2,719.3 L91.1,717.3 L101.0,715.7 L112.9,713.4 L128.7,709.8 L140.6,709.4 L148.5,711.4 L164.4,716.7 L180.2,723.2 L192.1,728.0 L202.0,730.6 L213.8,731.6 L227.7,735.1 L241.5,736.5 L255.4,734.5 L267.3,731.2 L283.1,725.6 L295.0,722.1 L304.0,720.1 L304.9,720.7 L309.9,721.3 L318.8,723.6 L329.7,725.0 L339.6,726.8 L349.5,728.2 L359.4,730.0 L369.3,731.6 L379.2,733.9 L387.1,737.5 L395.0,740.5 L404.9,743.0 L418.7,745.4 L434.6,747.4 L450.4,750.0 L468.2,753.9 L486.0,756.9 L497.9,758.7 L513.7,760.3 L523.6,760.5 L537.5,762.8 L549.4,763.6 L567.2,762.2 L581.0,760.3 L590.0,758.9 L590.9,758.3 L599.9,755.9 L609.8,752.3 L619.7,749.8 L629.6,748.4 L637.5,747.0 L649.4,742.4 L661.2,738.1 L675.1,732.5 L685.0,729.6 L697.9,726.2 L708.7,726.0 L718.6,726.4 L728.5,727.2 L736.4,725.8 L744.4,726.4 L756.2,729.2 L766.1,732.0 L778.0,737.1 L789.9,741.9 L797.8,745.8 L805.7,749.0 L817.6,750.0 L829.5,750.4 L835.4,749.8 L843.3,750.4 L851.2,751.9 L857.2,752.7 L867.1,755.7 L880.0,759.3 L880.9,759.7 L889.9,760.3 L899.8,760.7 L909.7,761.2 L919.6,762.2 L933.4,763.2 L947.3,765.2 L957.2,764.8 L971.0,760.7 L984.9,754.3 L998.7,750.4 L1014.6,744.4 L1028.4,740.5 L1042.3,736.1 L1058.1,730.6 L1070.0,727.2 L1077.9,726.6 L1089.8,726.2 L1103.6,724.0 L1117.5,724.6 L1133.3,724.6 L1140.0,723.5 L1143.2,724.6 L1152.4,726.0 L1157.1,726.2 L1164.8,727.2 L1165.0,727.0 L1184.6,733.4 L1194.6,734.6 L1204.5,737.9 L1214.4,742.1" fill="none" stroke="#f7e35a" stroke-width="1.2" stroke-linejoin="round"/><path d="M10.0,725.6 L14.4,724.6 L22.3,733.9 L29.8,730.6 L36.7,728.0 L44.0,706.8 L52.5,710.4 L59.5,710.2 L67.4,702.9 L75.3,700.9 L83.2,707.8 L91.1,713.4 L97.1,711.4 L105.0,706.8 L112.9,703.5 L120.8,700.3 L128.3,705.4 L135.7,726.6 L143.6,728.2 L150.9,737.5 L157.4,744.4 L166.7,752.3 L173.9,745.8 L181.8,752.3 L189.1,751.3 L197.0,743.8 L204.9,728.6 L211.9,712.2 L219.8,731.2 L227.3,726.6 L234.6,719.7 L242.5,727.2 L250.1,718.7 L257.4,718.7 L264.3,719.7 L272.8,714.7 L280.7,707.4 L288.1,716.7 L295.0,720.7 L302.5,721.3 L303.0,721.3 L310.9,741.1 L318.8,744.8 L326.7,740.5 L333.6,741.9 L341.2,739.5 L348.5,743.4 L356.4,735.1 L363.7,735.5 L371.2,740.5 L378.8,740.5 L386.7,756.3 L394.0,754.3 L401.5,755.9 L409.8,750.0 L417.2,753.9 L424.7,759.7 L432.2,751.0 L439.5,759.3 L447.4,757.3 L455.0,761.8 L462.7,757.7 L469.8,763.6 L477.7,747.4 L485.6,764.8 L493.0,772.1 L500.3,768.6 L507.8,763.6 L515.7,761.2 L523.6,760.3 L531.1,762.6 L539.1,774.7 L546.0,768.8 L553.9,754.3 L561.2,753.7 L568.8,752.9 L577.1,743.8 L584.0,740.9 L591.9,739.5 L593.0,739.9 L599.9,740.7 L606.8,731.2 L614.7,733.5 L622.1,735.9 L630.0,747.4 L637.5,736.9 L645.0,730.8 L652.9,730.6 L660.3,718.7 L667.8,707.8 L675.1,711.4 L683.0,716.3 L690.9,716.3 L697.9,711.2 L705.8,735.5 L713.7,735.5 L720.6,740.1 L728.5,742.6 L735.9,725.6 L744.0,745.0 L751.9,758.3 L758.8,749.0 L766.7,749.8 L774.0,751.7 L782.0,760.7 L789.5,760.3 L796.8,770.7 L804.7,760.3 L811.7,743.4 L819.6,741.9 L827.5,742.4 L835.4,735.5 L842.9,736.5 L849.8,764.6 L857.6,767.8 L865.7,781.4 L873.0,783.0 L880.5,784.4 L887.5,767.2 L895.4,771.5 L903.4,768.8 L910.7,769.2 L918.6,753.3 L925.9,754.3 L933.4,746.4 L941.0,754.3 L948.9,747.0 L956.8,758.7 L964.1,746.0 L972.0,743.8 L979.0,735.5 L986.9,733.5 L994.4,737.5 L1001.7,738.5 L1009.6,730.6 L1016.9,734.3 L1024.5,729.2 L1032.8,722.3 L1039.9,709.8 L1047.8,715.1 L1055.1,715.1 L1062.5,718.1 L1070.4,719.7 L1077.5,730.6 L1085.8,734.5 L1093.3,725.6 L1101.3,722.7 L1108.6,722.1 L1115.9,742.0 L1123.4,733.1 L1130.9,730.2 L1138.9,716.1 L1146.8,724.0 L1154.1,727.6 L1162.0,722.3 L1162.3,722.2 L1169.3,748.8 L1177.2,756.5 L1184.6,761.4 L1191.6,742.8 L1200.8,757.5 L1207.0,763.2 L1214.4,763.7" fill="none" stroke="#7e57c2" stroke-width="1.2" stroke-linejoin="round"/></g><text x="18.3" y="708.8" font-size="12" fill="#434651" font-weight="normal" text-anchor="start" textLength="16.4" lengthAdjust="spacingAndGlyphs">RSI</text><text x="41.5" y="708.8" font-size="12" fill="#7e57c2" font-weight="normal" text-anchor="start" >38.93</text><text x="79" y="708.8" font-size="12" fill="#f5d90a" font-weight="bold" text-anchor="start" >49.90</text><text x="114" y="708.8" font-size="12" fill="#434651" font-weight="normal" text-anchor="start" >∅</text><text x="129" y="708.8" font-size="12" fill="#434651" font-weight="normal" text-anchor="start" >∅</text><text x="145" y="708.8" font-size="12" fill="#434651" font-weight="normal" text-anchor="start" >∅</text><text x="160.5" y="708.8" font-size="12" fill="#434651" font-weight="normal" text-anchor="start" >∅</text><text x="1450" y="727" font-size="11.5" fill="#50535e" font-weight="normal" text-anchor="start" >60.00</text><rect x="1360.7" y="734.1" width="80.6" height="16.7" rx="2" fill="#fde02f"/><text x="1401" y="746.6" font-size="11.5" fill="#131722" font-weight="normal" text-anchor="middle" textLength="70" lengthAdjust="spacingAndGlyphs">RSI-based MA</text><rect x="1442" y="734.1" width="42.7" height="16.7" rx="2" fill="#fde02f"/><text x="1463.5" y="746.6" font-size="12" fill="#131722" font-weight="normal" text-anchor="middle" >49.90</text><rect x="1415.3" y="755.7" width="26" height="16.6" rx="2" fill="#7e57c2"/><text x="1428.3" y="768.2" font-size="11.5" fill="#fff" font-weight="normal" text-anchor="middle" >RSI</text><rect x="1442" y="755.7" width="42.7" height="16.6" rx="2" fill="#7e57c2"/><text x="1463.5" y="768.2" font-size="12" fill="#fff" font-weight="normal" text-anchor="middle" >38.93</text><text x="60.5" y="812.3" font-size="11.5" fill="#50535e" font-weight="normal" text-anchor="middle" >16</text><text x="143.7" y="812.3" font-size="11.5" fill="#50535e" font-weight="normal" text-anchor="middle" >Dec</text><text x="303.3" y="812.3" font-size="11.5" fill="#2a2e39" font-weight="bold" text-anchor="middle" >2024</text><text x="387" y="812.3" font-size="11.5" fill="#50535e" font-weight="normal" text-anchor="middle" >16</text><text x="478" y="812.3" font-size="11.5" fill="#50535e" font-weight="normal" text-anchor="middle" >Feb</text><text x="638" y="812.3" font-size="11.5" fill="#50535e" font-weight="normal" text-anchor="middle" >Mar</text><text x="797" y="812.3" font-size="11.5" fill="#50535e" font-weight="normal" text-anchor="middle" >Apr</text><text x="880.5" y="812.3" font-size="11.5" fill="#50535e" font-weight="normal" text-anchor="middle" >16</text><text x="965" y="812.3" font-size="11.5" fill="#50535e" font-weight="normal" text-anchor="middle" >May</text><text x="1047" y="812.3" font-size="11.5" fill="#50535e" font-weight="normal" text-anchor="middle" >16</text><text x="1138" y="812.3" font-size="11.5" fill="#50535e" font-weight="normal" text-anchor="middle" >Jun</text><text x="1291.4" y="812.3" font-size="11.5" fill="#50535e" font-weight="normal" text-anchor="middle" >Jul</text><text x="1375.5" y="812.3" font-size="11.5" fill="#50535e" font-weight="normal" text-anchor="middle" >16</text><text x="10.5" y="19" font-size="12" fill="#2a2e39" font-weight="normal" text-anchor="start" textLength="386.5" lengthAdjust="spacingAndGlyphs">Richard_Snow published on TradingView.com, Jun 17, 2024 08:24 UTC+1</text><g fill="#131722"><path d="M10,834 h8.5 v10 h-3.8 v-6.2 h-4.7z"/><circle cx="21.5" cy="836" r="2"/><path d="M24.8,834 h4 l-4.6,10 h-4z"/></g><text x="33.8" y="844" font-size="13.5" fill="#2a2e39" font-weight="normal" text-anchor="start" textLength="69" lengthAdjust="spacingAndGlyphs">TradingView</text><defs><mask id="wmm" maskUnits="userSpaceOnUse" x="1200" y="740" width="316" height="117"><rect x="1200" y="740" width="316" height="117" fill="#fff"/><path d="M1283,765.5 L1292,765.5 L1290,779 L1281.5,779 Z M1277,798.5 L1287,798.5 L1280,811 Q1277,817 1270,817.5 M1307,766 L1298,778 M1298,770.5 L1333,770.5 M1330,772 L1322,811 Q1320.5,817.5 1314,817.5 L1287,817.5 M1302,784 L1298,805 M1302,784 L1326,784 M1297,800.5 L1327,800.5 M1311,788 L1315,794 M1308,805 L1311,811 M1342,771.5 L1386,771.5 M1349,772 L1346,786 M1337,793.5 L1377,793.5 M1388,768 L1380.5,812 Q1379,818.5 1372,818.5 L1358,818.5 M1333,809 L1371,809 M1404,774 L1417,774 L1410,806 M1404,774 L1398,806 M1411,779 L1408,800 M1398,807 L1391,817 M1410,807 L1414,817 M1427,778.3 L1442,778.3 M1427,767 L1419,812 Q1418,818 1412,818 M1435,781 L1424,816 M1456,767 L1448,779 L1457,779 L1446,792 L1457,790 M1447,808 L1460,800 M1469,773 L1500,772 L1470,796 M1483,779 L1507,792 M1455,801.5 L1505,801.5 M1493,797 L1490,817 M1450,817 L1503,817 M1514,767 L1501,781" fill="none" stroke-linecap="square" stroke-linejoin="miter" stroke="#000" stroke-width="6.4"/></mask><filter id="wmb" x="-5%" y="-5%" width="110%" height="110%"><feGaussianBlur stdDeviation="0.55"/></filter></defs><g mask="url(#wmm)"><path d="M1283,765.5 L1292,765.5 L1290,779 L1281.5,779 Z M1277,798.5 L1287,798.5 L1280,811 Q1277,817 1270,817.5 M1307,766 L1298,778 M1298,770.5 L1333,770.5 M1330,772 L1322,811 Q1320.5,817.5 1314,817.5 L1287,817.5 M1302,784 L1298,805 M1302,784 L1326,784 M1297,800.5 L1327,800.5 M1311,788 L1315,794 M1308,805 L1311,811 M1342,771.5 L1386,771.5 M1349,772 L1346,786 M1337,793.5 L1377,793.5 M1388,768 L1380.5,812 Q1379,818.5 1372,818.5 L1358,818.5 M1333,809 L1371,809 M1404,774 L1417,774 L1410,806 M1404,774 L1398,806 M1411,779 L1408,800 M1398,807 L1391,817 M1410,807 L1414,817 M1427,778.3 L1442,778.3 M1427,767 L1419,812 Q1418,818 1412,818 M1435,781 L1424,816 M1456,767 L1448,779 L1457,779 L1446,792 L1457,790 M1447,808 L1460,800 M1469,773 L1500,772 L1470,796 M1483,779 L1507,792 M1455,801.5 L1505,801.5 M1493,797 L1490,817 M1450,817 L1503,817 M1514,767 L1501,781" fill="none" stroke-linecap="square" stroke-linejoin="miter" stroke="#5d606b" stroke-width="8.4" transform="translate(0.5,0.9)" filter="url(#wmb)" opacity="0.6"/></g><path d="M1283,765.5 L1292,765.5 L1290,779 L1281.5,779 Z M1277,798.5 L1287,798.5 L1280,811 Q1277,817 1270,817.5 M1307,766 L1298,778 M1298,770.5 L1333,770.5 M1330,772 L1322,811 Q1320.5,817.5 1314,817.5 L1287,817.5 M1302,784 L1298,805 M1302,784 L1326,784 M1297,800.5 L1327,800.5 M1311,788 L1315,794 M1308,805 L1311,811 M1342,771.5 L1386,771.5 M1349,772 L1346,786 M1337,793.5 L1377,793.5 M1388,768 L1380.5,812 Q1379,818.5 1372,818.5 L1358,818.5 M1333,809 L1371,809 M1404,774 L1417,774 L1410,806 M1404,774 L1398,806 M1411,779 L1408,800 M1398,807 L1391,817 M1410,807 L1414,817 M1427,778.3 L1442,778.3 M1427,767 L1419,812 Q1418,818 1412,818 M1435,781 L1424,816 M1456,767 L1448,779 L1457,779 L1446,792 L1457,790 M1447,808 L1460,800 M1469,773 L1500,772 L1470,796 M1483,779 L1507,792 M1455,801.5 L1505,801.5 M1493,797 L1490,817 M1450,817 L1503,817 M1514,767 L1501,781" fill="none" stroke-linecap="square" stroke-linejoin="miter" stroke="#fff" stroke-width="6.4" opacity="0.62"/><g font-family="Liberation Sans, sans-serif" font-weight="bold" font-style="italic" font-size="31"><g fill="#8a8aa0" stroke="#8a8aa0" stroke-width="1.8" opacity="0.7"><text x="1291.5" y="852.5" text-anchor="middle">z</text><text x="1317.5" y="852.5" text-anchor="middle">z</text><text x="1344.5" y="852.5" text-anchor="middle">r</text><text x="1364" y="852.5" text-anchor="middle">t</text><text x="1390.5" y="852.5" text-anchor="middle">0</text><text x="1420.5" y="852.5" text-anchor="middle">1</text><text x="1444" y="852.5" text-anchor="middle">.</text><text x="1468.5" y="852.5" text-anchor="middle">c</text><text x="1495.5" y="852.5" text-anchor="middle">n</text></g><g fill="#86cdc4" stroke="#86cdc4" stroke-width="1.8" stroke-linejoin="round"><text x="1290.5" y="851.5" text-anchor="middle">z</text><text x="1316.5" y="851.5" text-anchor="middle">z</text><text x="1343.5" y="851.5" text-anchor="middle">r</text><text x="1363" y="851.5" text-anchor="middle">t</text><text x="1389.5" y="851.5" text-anchor="middle">0</text><text x="1419.5" y="851.5" text-anchor="middle">1</text><text x="1443" y="851.5" text-anchor="middle">.</text><text x="1467.5" y="851.5" text-anchor="middle">c</text><text x="1494.5" y="851.5" text-anchor="middle">n</text></g></g></svg>
</body></html>
